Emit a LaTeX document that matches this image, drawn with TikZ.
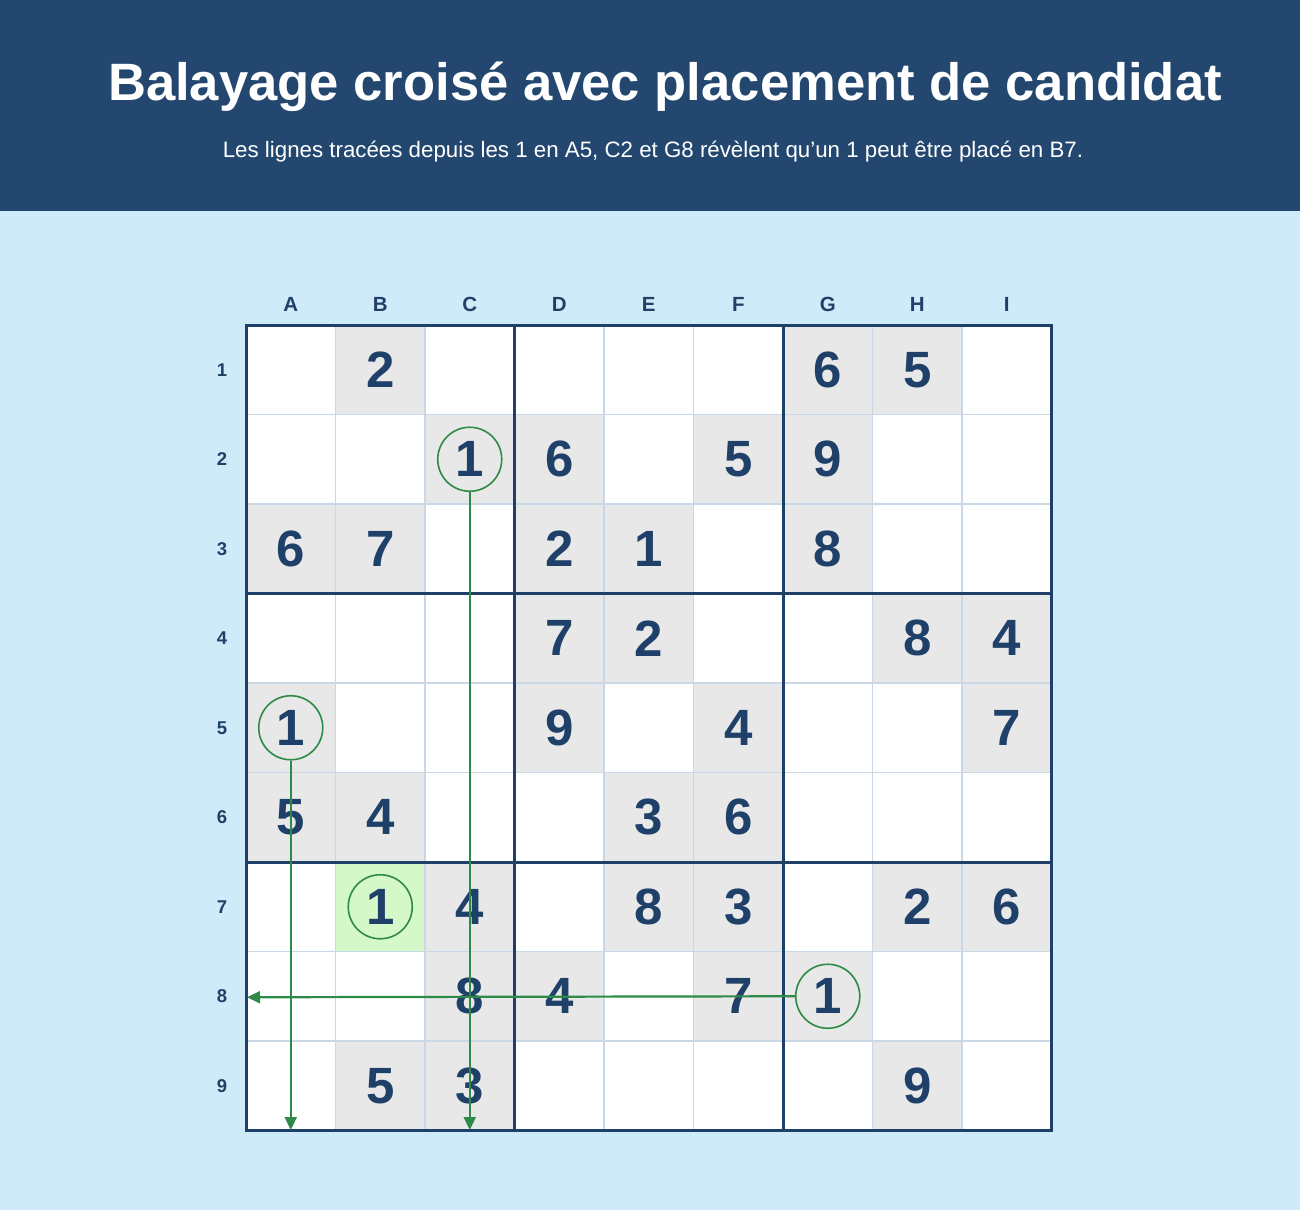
\documentclass[tikz,border=0pt]{standalone}
\usepackage{fontspec}
\setmainfont{Liberation Sans}
\usetikzlibrary{arrows.meta}
\definecolor{hdr}{HTML}{23476F}
\definecolor{bgc}{HTML}{CFEAF9}
\definecolor{ink}{HTML}{1F4068}
\definecolor{thin}{HTML}{C9D8E4}
\definecolor{given}{HTML}{E8E8E8}
\definecolor{found}{HTML}{D4F8C8}
\definecolor{scan}{HTML}{2E8B47}
\tikzset{
  titletext/.style={font=\fontsize{52.6}{60}\selectfont\bfseries, text=white, anchor=base},
  subtext/.style={font=\fontsize{22.3}{26}\selectfont, text=white, anchor=base},
  digit/.style={font=\fontsize{51}{56}\selectfont\bfseries, text=ink, inner sep=0pt},
  collabel/.style={font=\fontsize{20.5}{24}\selectfont\bfseries, text=ink, inner sep=0pt},
  rowlabel/.style={font=\fontsize{18.5}{22}\selectfont\bfseries, text=ink, inner sep=0pt},
  thinline/.style={draw=thin, line width=1.4pt},
  thickline/.style={draw=ink, line width=3pt},
  ring/.style={circle, draw=scan, line width=1.6pt, minimum size=64pt, inner sep=0pt},
  scanline/.style={draw=scan, line width=2.2pt, -{Triangle[length=13pt,width=12pt]}},
}
\begin{document}
\begin{tikzpicture}[x=1pt,y=-1pt]
\useasboundingbox (0,0) rectangle (1300,1210);
\fill[bgc] (0,0) rectangle (1300,1210);
\fill[hdr] (0,0) rectangle (1300,211);
\node[titletext] (title) at (665,100) {Balayage croisé avec placement de candidat};
\node[subtext] (subtitle) at (653,157) {Les lignes tracées depuis les 1 en A5, C2 et G8 révèlent qu’un 1 peut être placé en B7.};
% white board
\fill[white] (246,325) rectangle (1051.5,1130.5);
% given cells
\foreach \c/\r in {2/1,7/1,8/1, 3/2,4/2,6/2,7/2, 1/3,2/3,4/3,5/3,7/3, 4/4,5/4,8/4,9/4, 1/5,4/5,6/5,9/5, 1/6,2/6,5/6,6/6, 3/7,5/7,6/7,8/7,9/7, 3/8,4/8,6/8,7/8, 2/9,3/9,8/9}
  \fill[given] ({246+(\c-1)*89.5},{325+(\r-1)*89.5}) rectangle ++(89.5,89.5);
\fill[found] ({246+89.5},{325+6*89.5}) rectangle ++(89.5,89.5);
% thin lines
\foreach \i in {1,2,4,5,7,8} {
  \draw[thinline] ({246+\i*89.5},325) -- ({246+\i*89.5},1130.5);
  \draw[thinline] (246,{325+\i*89.5}) -- (1051.5,{325+\i*89.5});
}
% thick lines
\foreach \i in {3,6} {
  \draw[thickline] ({246+\i*89.5},325) -- ({246+\i*89.5},1130.5);
  \draw[thickline] (246,{325+\i*89.5}) -- (1051.5,{325+\i*89.5});
}
\draw[thickline] (246,325) rectangle (1051.5,1130.5);
% labels
\foreach \L [count=\i] in {A,B,C,D,E,F,G,H,I}
  \node[collabel] (col\L) at ({246+(\i-0.5)*89.5},304) {\L};
\foreach \i in {1,...,9}
  \node[rowlabel] (row\i) at (222,{325+(\i-0.5)*89.5}) {\i};
% digits
\foreach \c/\r/\d in {2/1/2,7/1/6,8/1/5, 3/2/1,4/2/6,6/2/5,7/2/9, 1/3/6,2/3/7,4/3/2,5/3/1,7/3/8, 4/4/7,5/4/2,8/4/8,9/4/4, 1/5/1,4/5/9,6/5/4,9/5/7, 1/6/5,2/6/4,5/6/3,6/6/6, 2/7/1,3/7/4,5/7/8,6/7/3,8/7/2,9/7/6, 3/8/8,4/8/4,6/8/7,7/8/1, 2/9/5,3/9/3,8/9/9}
  \node[digit] (d\c\r) at ({246+(\c-0.5)*89.5},{325+(\r-0.5)*89.5}) {\d};
% rings
\node[ring] (ringA5) at (d15) {};
\node[ring] (ringC2) at (d32) {};
\node[ring] (ringG8) at (d78) {};
\node[ring] (ringB7) at (d27) {};
% scan ends
\coordinate (endA) at (290.75,1130);
\coordinate (endC) at (469.75,1130);
\coordinate (end8) at (247,997.25);
\draw[scanline] (ringA5.south) -- (endA);
\draw[scanline] (ringC2.south) -- (endC);
\draw[scanline] (ringG8.west) -- (end8);
\end{tikzpicture}
\end{document}
